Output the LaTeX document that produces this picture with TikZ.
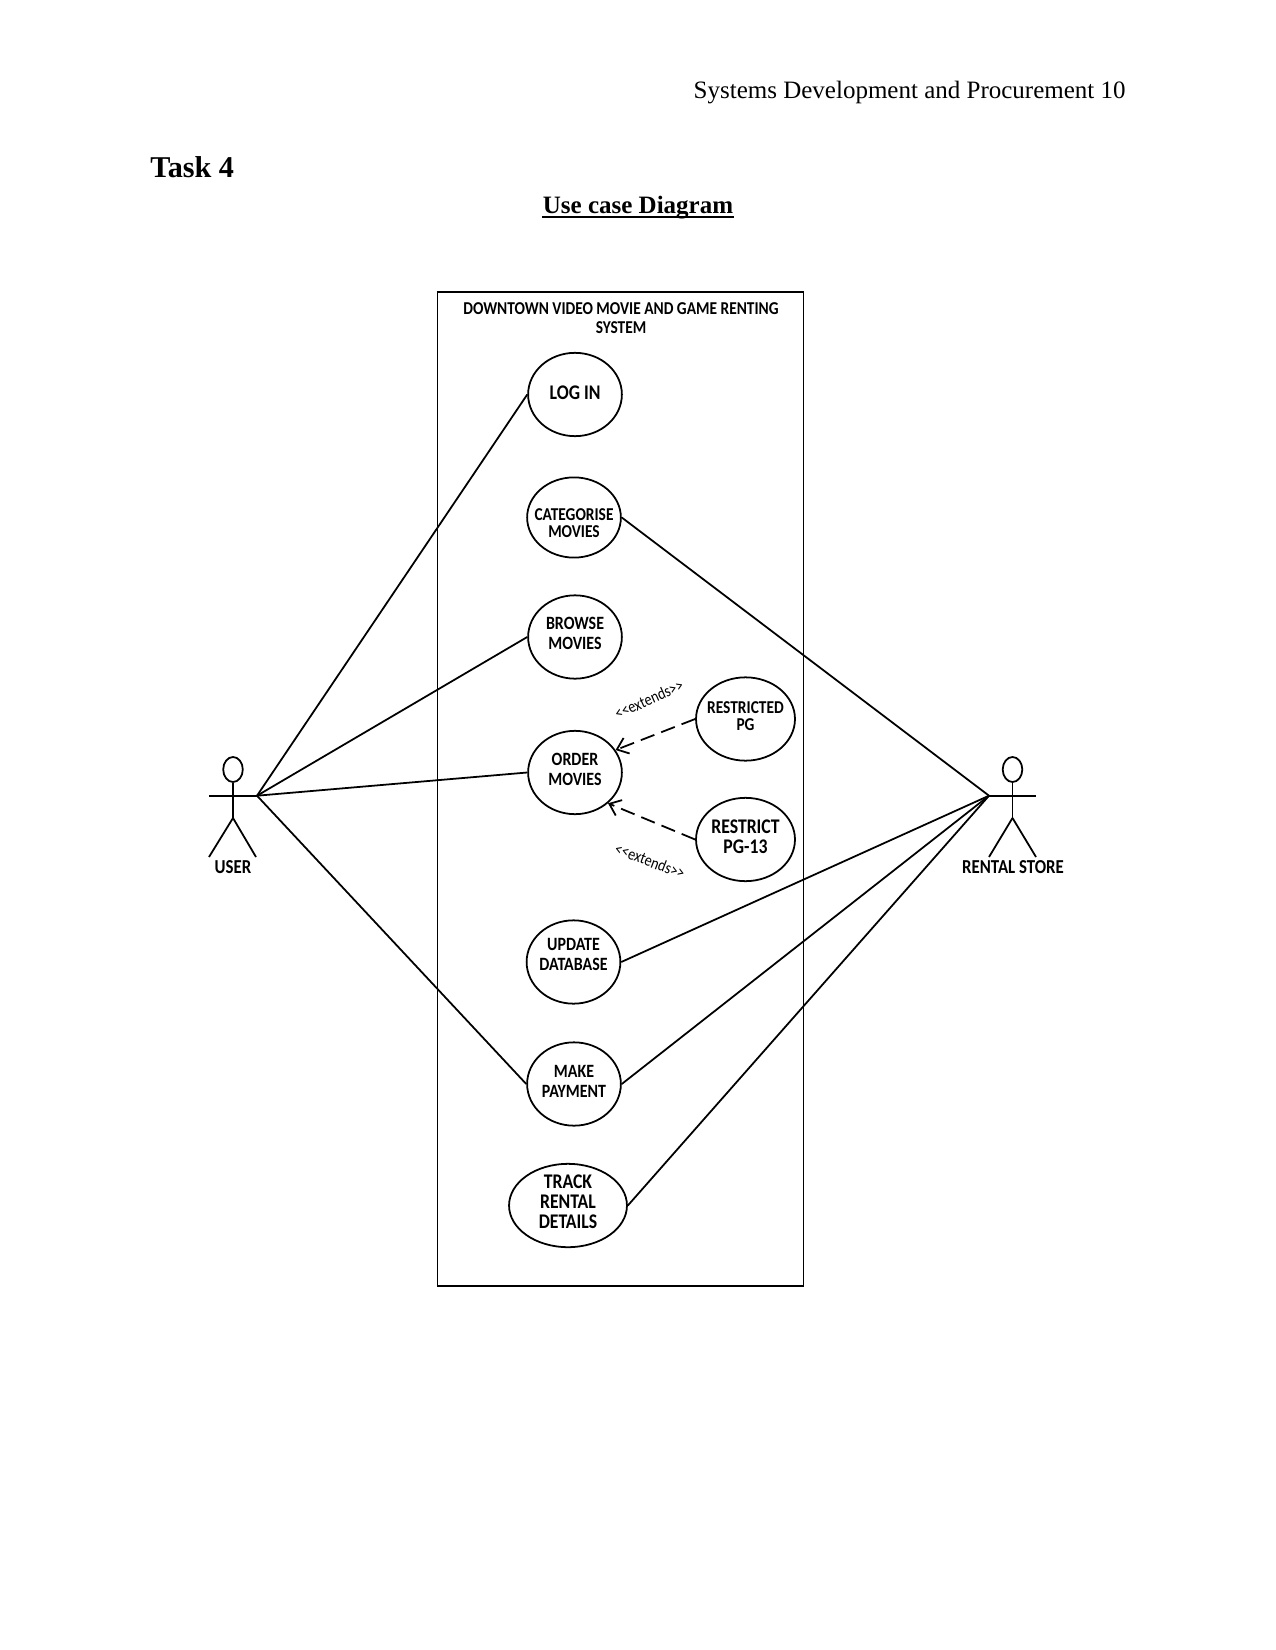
\documentclass[tikz,border=0pt]{standalone}
\usepackage{fontspec}
\setmainfont{Liberation Serif}
\newfontfamily\sketchfont[FakeStretch=0.85]{Carlito}
\usetikzlibrary{shapes.geometric,arrows.meta}
\begin{document}
\begin{tikzpicture}[x=0.48pt,y=-0.48pt]
  \tikzstyle{usecase}=[ellipse, draw, line width=0.85pt, minimum width=45pt, minimum height=40pt, inner sep=-9pt, align=center, font=\sketchfont\bfseries\fontsize{9}{9.6}\selectfont]
  \tikzstyle{smallcase}=[font=\sketchfont\bfseries\fontsize{8.7}{8.2}\selectfont]
  \tikzstyle{bigcase}=[font=\sketchfont\bfseries\fontsize{10}{9.6}\selectfont]
  \tikzstyle{head}=[ellipse, draw, line width=0.85pt, minimum width=9.4pt, minimum height=12pt, inner sep=0pt]
  \tikzstyle{actor}=[font=\sketchfont\bfseries\fontsize{9.5}{9.5}\selectfont]
  \tikzstyle{stereo}=[font=\sketchfont\fontsize{8}{8}\selectfont, inner sep=0pt]
  \tikzstyle{conn}=[line width=0.85pt]
  \tikzstyle{extend}=[line width=0.85pt, dash pattern=on 7pt off 3.5pt, -{Straight Barb[length=5pt,width=8pt]}]

  \useasboundingbox (0,0) rectangle (1275,1650);

  \node[anchor=base east, inner sep=0pt, font=\fontsize{12}{12}\selectfont] (header) at (1126, 98.5) {Systems Development and Procurement 10};
  \node[anchor=base west, inner sep=0pt, font=\bfseries\fontsize{14.5}{14.5}\selectfont] (task) at (150, 178) {Task 4};
  \node[anchor=base, inner sep=0pt, font=\bfseries\fontsize{12}{12}\selectfont] (heading) at (638, 214) {Use case Diagram};
  \draw[line width=0.8pt] ([yshift=-1.5pt]heading.base west) -- ([yshift=-1.5pt]heading.base east);

  \node[draw, line width=0.5pt, minimum width=175.7pt, minimum height=476.8pt, inner sep=0pt] (system) at (620.5, 789) {};
  \draw[line width=1.2pt] (system.north west) -- (system.north east);
  \draw[line width=1.2pt] (system.south west) -- (system.south east);
  \node[align=center, inner sep=0pt, font=\sketchfont\bfseries\fontsize{8.7}{9.4}\selectfont] (title) at (621, 318) {DOWNTOWN VIDEO MOVIE AND GAME RENTING\\SYSTEM};

  \node[usecase, bigcase, text depth=2pt]   (login)      at (575,   394.5) {LOG IN};
  \node[usecase, smallcase, text height=19pt, minimum height=38.5pt] (categorise) at (574, 517.5) {CATEGORISE\\MOVIES};
  \node[usecase, text depth=3.5pt]          (browse)     at (575,   637)   {BROWSE\\MOVIES};
  \node[usecase, text depth=3pt]            (order)      at (575,   772.5) {ORDER\\MOVIES};
  \node[usecase, smallcase, text depth=2.5pt, minimum width=47.5pt] (restricted) at (745.5, 719) {RESTRICTED\\PG};
  \node[usecase, bigcase, text depth=2.5pt, minimum width=47.5pt]   (restrict)   at (745.5, 839.5) {RESTRICT\\PG-13};
  \node[usecase, text depth=7pt]            (update)     at (573.5, 962)   {UPDATE\\DATABASE};
  \node[usecase, text depth=2.5pt]          (payment)    at (574,   1084)  {MAKE\\PAYMENT};
  \node[usecase, bigcase, text depth=4pt, minimum width=56.6pt] (track) at (568, 1205.5) {TRACK\\RENTAL\\DETAILS};

  \node[stereo, rotate=24]  (extends1) at (649, 699.5) {{<}{<}extends{>}{>}};
  \node[stereo, rotate=-21] (extends2) at (650, 861)   {{<}{<}extends{>}{>}};

  \node[head]  (userhead)  at (233,    769.5) {};
  \node[actor] (userlabel) at (233,    867)   {USER};
  \node[head]  (storehead) at (1012.5, 769.5) {};
  \node[actor] (storelabel) at (1013,  867)   {RENTAL STORE};

  \coordinate (userarm)   at (209,    795.7);
  \coordinate (userhand)  at (257,    795.7);
  \coordinate (userhip)   at (233,    818);
  \coordinate (userleft)  at (209,    857);
  \coordinate (userright) at (256,    857);

  \coordinate (storehand)  at (989,    795.7);
  \coordinate (storearm)   at (1036,   795.7);
  \coordinate (storehip)   at (1012.5, 818);
  \coordinate (storeleft)  at (989,    857);
  \coordinate (storeright) at (1036,   857);

  \path[conn] (userhead) edge (userhip);
  \path[conn] (userarm) edge (userhand);
  \path[conn] (userhip) edge (userleft);
  \path[conn] (userhip) edge (userright);

  \path[conn] (storehead) edge (storehip);
  \path[conn] (storehand) edge (storearm);
  \path[conn] (storehip) edge (storeleft);
  \path[conn] (storehip) edge (storeright);

  \path[conn] (userhand) edge (login.west);
  \path[conn] (userhand) edge (browse.west);
  \path[conn] (userhand) edge (order.west);
  \path[conn] (userhand) edge (payment.west);

  \path[conn] (storehand) edge (categorise.east);
  \path[conn] (storehand) edge (update.east);
  \path[conn] (storehand) edge (payment.east);
  \path[conn] (storehand) edge (track.east);

  \path[extend] (restricted.west) edge (order.29);
  \path[extend] (restrict.west) edge (order.-43);
\end{tikzpicture}
\end{document}
